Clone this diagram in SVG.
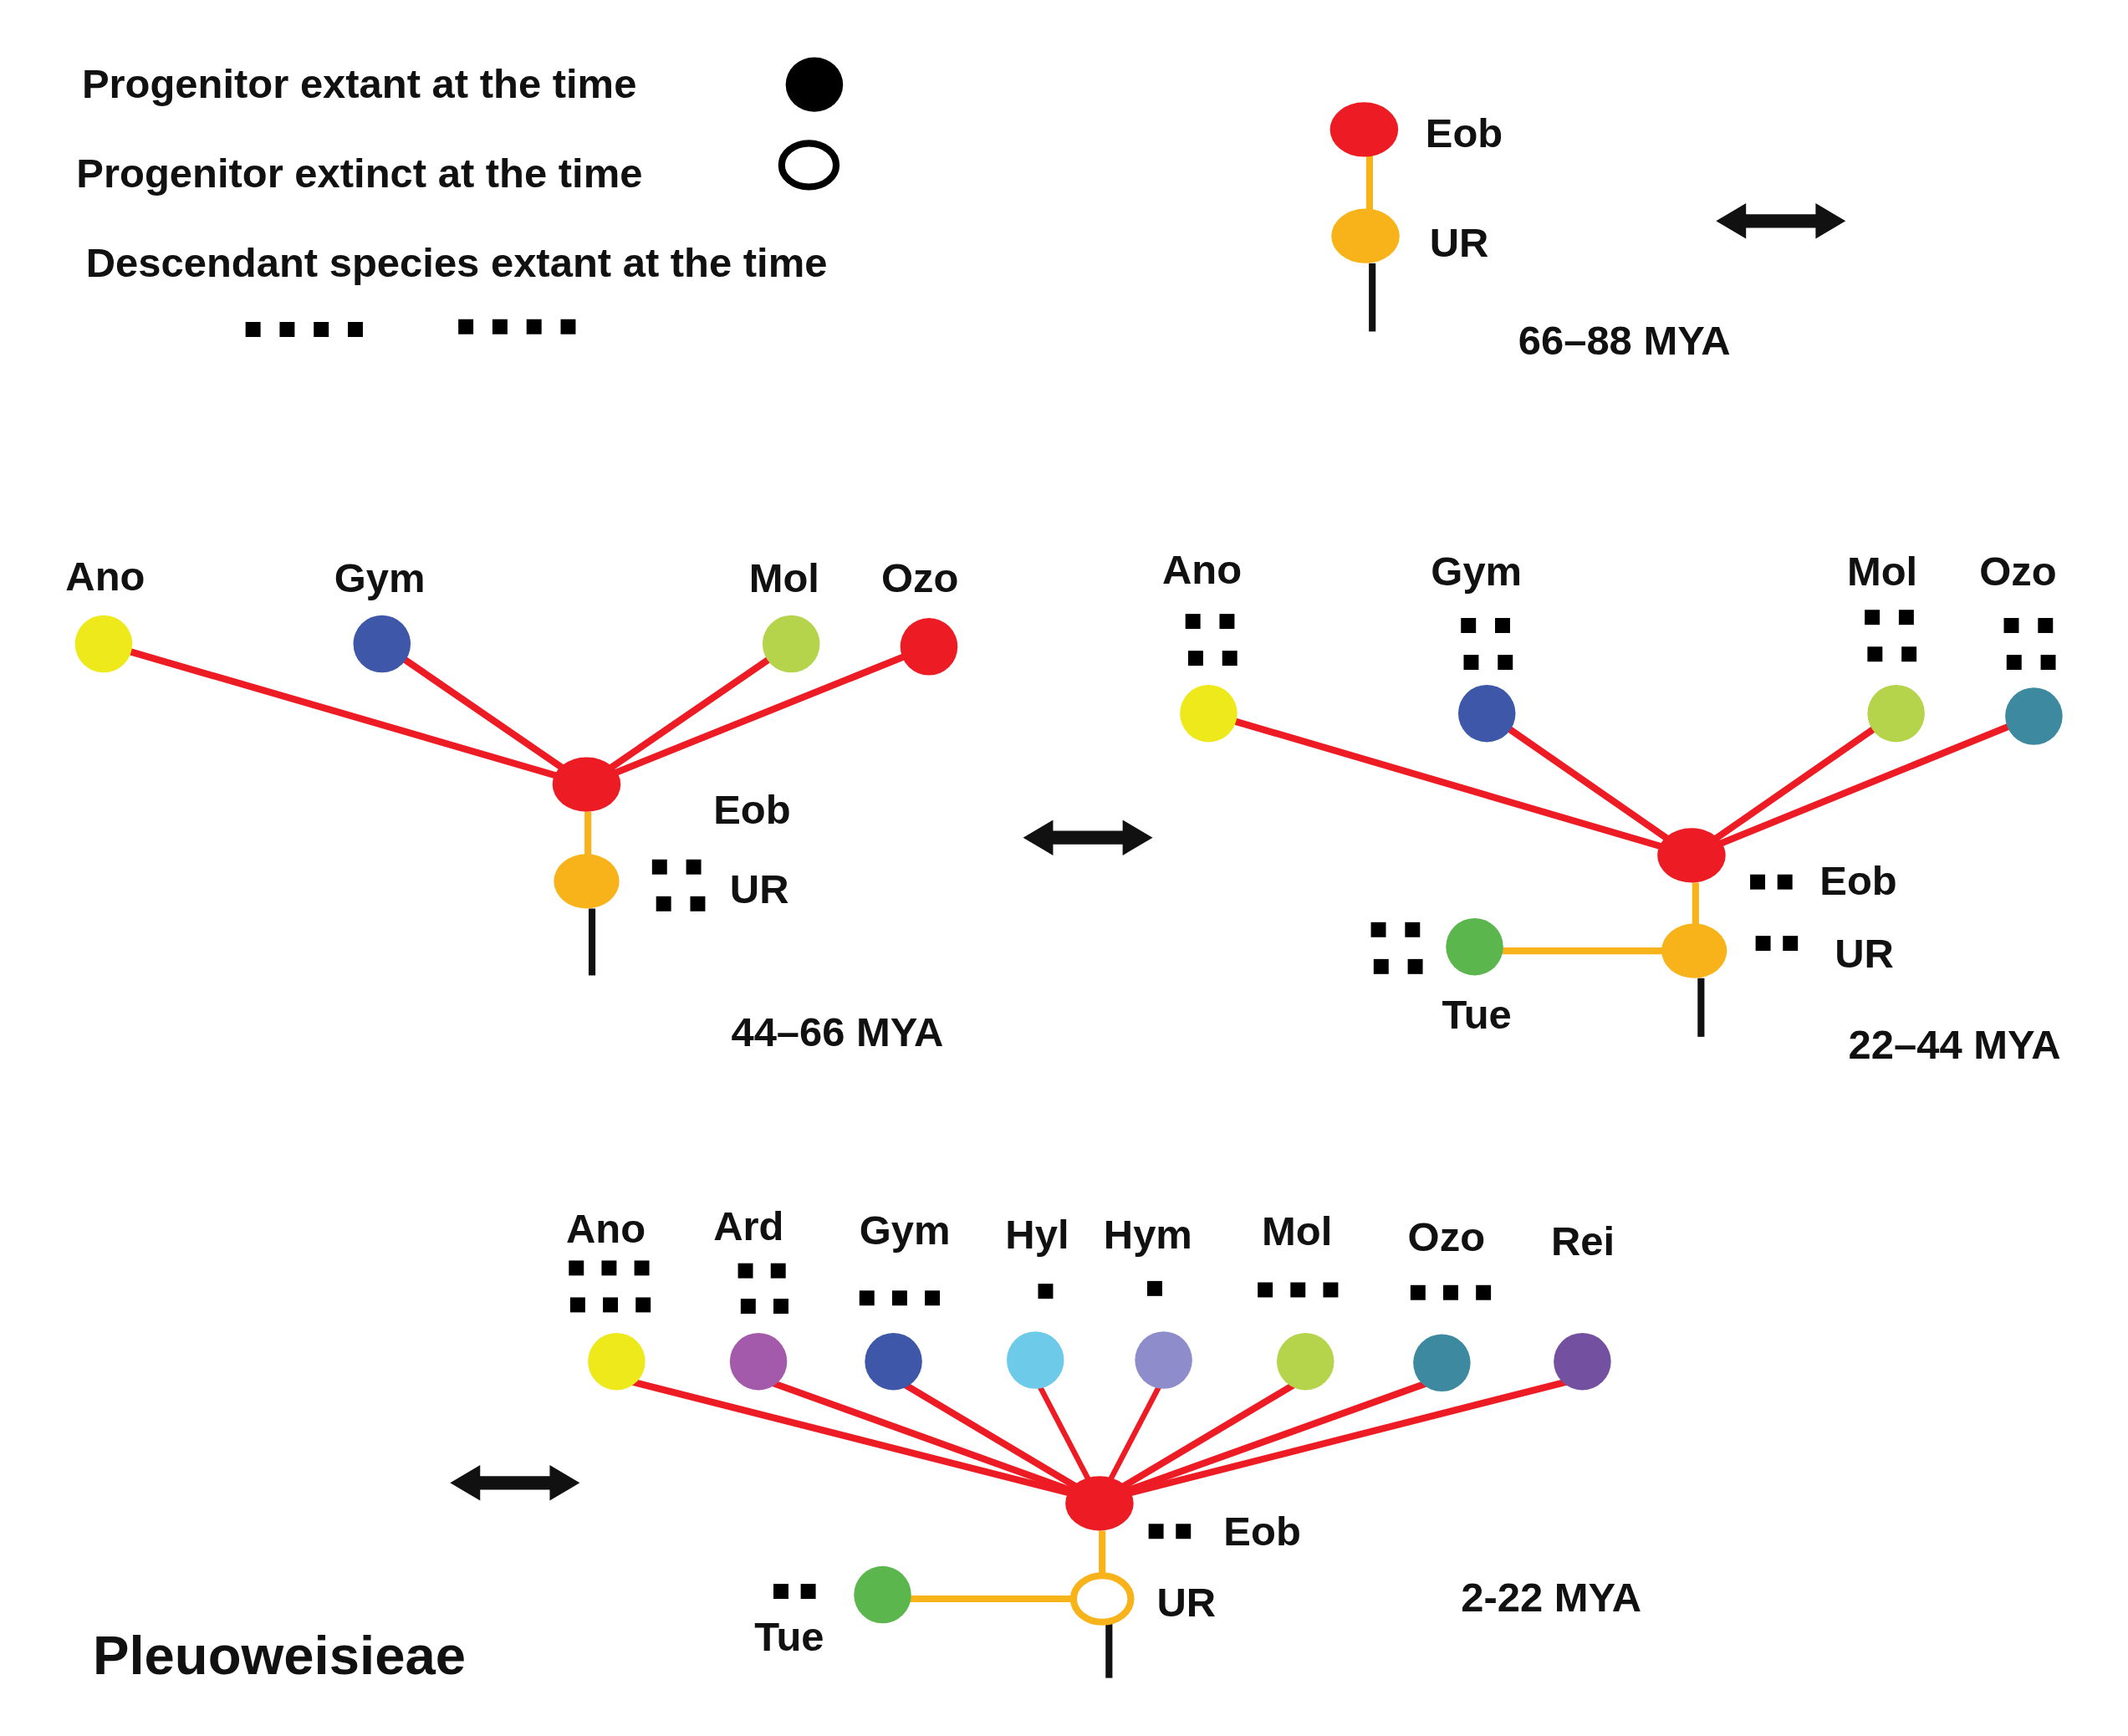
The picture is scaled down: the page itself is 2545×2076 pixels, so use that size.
<svg xmlns="http://www.w3.org/2000/svg" width="2545" height="2076" viewBox="0 0 2545 2076">
<defs>
<style>
text{font-family:"Liberation Sans",Arial,sans-serif;font-weight:bold;font-size:30px;fill:#111}
.r{stroke:#ed1c24;stroke-width:5;fill:none}
.o{stroke:#f8b31b;stroke-width:5;fill:none}
.k{stroke:#111;stroke-width:5;fill:none}
.sq{fill:#000}
</style>
<path id="arr" d="M0,0 L22,-13 L22,-5 L73,-5 L73,-13 L95,0 L73,13 L73,5 L22,5 L22,13 Z" fill="#111"/>
<rect id="s" width="11" height="11"/>
</defs>
<rect width="2545" height="2076" fill="#fff"/>
<g transform="scale(1.6314)">
<g id="legend">
<text x="60" y="72">Progenitor extant at the time</text>
<ellipse cx="597" cy="62" rx="21" ry="20" fill="#000"/>
<text x="56" y="137">Progenitor extinct at the time</text>
<ellipse cx="593" cy="121" rx="20" ry="16" fill="none" stroke="#000" stroke-width="5"/>
<text x="63" y="203">Descendant species extant at the time</text>
<g class="sq"><use href="#s" x="180" y="236"/><use href="#s" x="205" y="236"/><use href="#s" x="230" y="236"/><use href="#s" x="255" y="236"/>
<use href="#s" x="336" y="234"/><use href="#s" x="361" y="234"/><use href="#s" x="386" y="234"/><use href="#s" x="411" y="234"/></g>
</g>
<g id="connectors">
<line class="o" x1="1004" y1="113" x2="1004" y2="155"/>
<line class="k" x1="1006" y1="193" x2="1006" y2="243"/>
<g class="r"><line x1="76" y1="472" x2="430" y2="575"/><line x1="280" y1="472" x2="430" y2="575"/><line x1="580" y1="472" x2="430" y2="575"/><line x1="681" y1="474" x2="430" y2="575"/></g>
<line class="o" x1="431" y1="595" x2="431" y2="627"/>
<line class="k" x1="434" y1="666" x2="434" y2="715"/>
<g class="r"><line x1="886" y1="523" x2="1240" y2="627"/><line x1="1090" y1="523" x2="1240" y2="627"/><line x1="1390" y1="523" x2="1240" y2="627"/><line x1="1491" y1="525" x2="1240" y2="627"/></g>
<line class="o" x1="1243" y1="647" x2="1243" y2="678"/>
<line class="o" x1="1100" y1="697" x2="1220" y2="697" stroke-width="6"/>
<line class="k" x1="1247" y1="717" x2="1247" y2="760"/>
<g class="r"><line x1="452" y1="1010" x2="806" y2="1100"/><line x1="556" y1="1010" x2="806" y2="1100"/><line x1="655" y1="1010" x2="806" y2="1100"/><line x1="759" y1="1010" x2="806" y2="1100" stroke-width="4"/><line x1="853" y1="1010" x2="806" y2="1100" stroke-width="4"/><line x1="957" y1="1010" x2="806" y2="1100"/><line x1="1057" y1="1010" x2="806" y2="1100"/><line x1="1160" y1="1010" x2="806" y2="1100"/></g>
<line class="o" x1="808" y1="1122" x2="808" y2="1155"/>
<line class="o" x1="667" y1="1172" x2="787" y2="1172" stroke-width="6"/>
<line class="k" x1="813" y1="1190" x2="813" y2="1230"/>
<use href="#arr" x="1258" y="162"/>
<use href="#arr" x="750" y="614"/>
<use href="#arr" x="330" y="1087"/>
</g>
<g id="p1">
<ellipse id="n1eob" cx="1000" cy="95" rx="25" ry="20" fill="#ed1c24"/>
<ellipse cx="1001" cy="173" rx="25" ry="20" fill="#f8b31b"/>
<text x="1045" y="108">Eob</text><text x="1048" y="188">UR</text>
<text x="1113" y="260">66–88 MYA</text>
</g>
<g id="p2">
<text x="48" y="433">Ano</text><text x="245" y="434">Gym</text><text x="549" y="434">Mol</text><text x="646" y="434">Ozo</text>
<ellipse cx="76" cy="472" rx="21" ry="21" fill="#ede91a"/>
<ellipse cx="280" cy="472" rx="21" ry="21" fill="#3f57a8"/>
<ellipse cx="580" cy="472" rx="21" ry="21" fill="#b5d44b"/>
<ellipse cx="681" cy="474" rx="21" ry="21" fill="#ed1c24"/>
<ellipse cx="430" cy="575" rx="25" ry="20" fill="#ed1c24"/>
<ellipse cx="430" cy="646" rx="24" ry="20" fill="#f8b31b"/>
<g class="sq"><use href="#s" x="478" y="630"/><use href="#s" x="503" y="630"/><use href="#s" x="481" y="657"/><use href="#s" x="506" y="657"/></g>
<text x="523" y="604">Eob</text><text x="535" y="662">UR</text>
<text x="536" y="767">44–66 MYA</text>
</g>
<g id="p3">
<text x="852" y="428">Ano</text><text x="1049" y="429">Gym</text><text x="1354" y="429">Mol</text><text x="1451" y="429">Ozo</text>
<g class="sq">
<use href="#s" x="869" y="450"/><use href="#s" x="894" y="450"/><use href="#s" x="871" y="477"/><use href="#s" x="896" y="477"/>
<use href="#s" x="1071" y="453"/><use href="#s" x="1096" y="453"/><use href="#s" x="1073" y="480"/><use href="#s" x="1098" y="480"/>
<use href="#s" x="1367" y="447"/><use href="#s" x="1392" y="447"/><use href="#s" x="1369" y="474"/><use href="#s" x="1394" y="474"/>
<use href="#s" x="1469" y="453"/><use href="#s" x="1494" y="453"/><use href="#s" x="1471" y="480"/><use href="#s" x="1496" y="480"/>
<use href="#s" x="1283" y="641"/><use href="#s" x="1303" y="641"/>
<use href="#s" x="1287" y="686"/><use href="#s" x="1307" y="686"/>
<use href="#s" x="1005" y="676"/><use href="#s" x="1030" y="676"/><use href="#s" x="1007" y="703"/><use href="#s" x="1032" y="703"/>
</g>
<ellipse cx="886" cy="523" rx="21" ry="21" fill="#ede91a"/>
<ellipse cx="1090" cy="523" rx="21" ry="21" fill="#3f57a8"/>
<ellipse cx="1390" cy="523" rx="21" ry="21" fill="#b5d44b"/>
<ellipse cx="1491" cy="525" rx="21" ry="21" fill="#3d8aa0"/>
<ellipse cx="1240" cy="627" rx="25" ry="20" fill="#ed1c24"/>
<ellipse cx="1242" cy="697" rx="24" ry="20" fill="#f8b31b"/>
<ellipse cx="1081" cy="694" rx="21" ry="21" fill="#5bb74d"/>
<text x="1334" y="656">Eob</text><text x="1345" y="709">UR</text><text x="1057" y="754">Tue</text>
<text x="1355" y="776">22–44 MYA</text>
</g>
<g id="p4">
<text x="415" y="911">Ano</text><text x="523" y="909">Ard</text><text x="630" y="912">Gym</text><text x="737" y="915">Hyl</text><text x="809" y="915">Hym</text><text x="925" y="913">Mol</text><text x="1032" y="917">Ozo</text><text x="1137" y="920">Rei</text>
<g class="sq">
<use href="#s" x="417" y="924"/><use href="#s" x="441" y="924"/><use href="#s" x="465" y="924"/>
<use href="#s" x="418" y="951"/><use href="#s" x="442" y="951"/><use href="#s" x="466" y="951"/>
<use href="#s" x="541" y="926"/><use href="#s" x="565" y="926"/><use href="#s" x="543" y="952"/><use href="#s" x="567" y="952"/>
<use href="#s" x="630" y="946"/><use href="#s" x="654" y="946"/><use href="#s" x="678" y="946"/>
<use href="#s" x="761" y="941"/><use href="#s" x="841" y="939"/>
<use href="#s" x="922" y="940"/><use href="#s" x="946" y="940"/><use href="#s" x="970" y="940"/>
<use href="#s" x="1034" y="942"/><use href="#s" x="1058" y="942"/><use href="#s" x="1082" y="942"/>
<use href="#s" x="842" y="1117"/><use href="#s" x="862" y="1117"/>
<use href="#s" x="567" y="1161"/><use href="#s" x="587" y="1161"/>
</g>
<ellipse cx="452" cy="998" rx="21" ry="21" fill="#ede91a"/>
<ellipse cx="556" cy="998" rx="21" ry="21" fill="#a45aab"/>
<ellipse cx="655" cy="998" rx="21" ry="21" fill="#3f57a8"/>
<ellipse cx="759" cy="997" rx="21" ry="21" fill="#6dcbe9"/>
<ellipse cx="853" cy="997" rx="21" ry="21" fill="#8e8ccb"/>
<ellipse cx="957" cy="998" rx="21" ry="21" fill="#b5d44b"/>
<ellipse cx="1057" cy="999" rx="21" ry="21" fill="#3d8aa0"/>
<ellipse cx="1160" cy="998" rx="21" ry="21" fill="#7450a0"/>
<ellipse cx="806" cy="1102" rx="25" ry="20" fill="#ed1c24"/>
<ellipse cx="808" cy="1172" rx="21" ry="17" fill="#fff" stroke="#f8b31b" stroke-width="5"/>
<ellipse cx="647" cy="1169" rx="21" ry="21" fill="#5bb74d"/>
<text x="897" y="1133">Eob</text><text x="848" y="1185">UR</text><text x="553" y="1210">Tue</text>
<text x="1071" y="1181">2-22 MYA</text>
<text x="68" y="1227" style="font-size:40px">Pleuoweisieae</text>
</g>
</g>
</svg>
